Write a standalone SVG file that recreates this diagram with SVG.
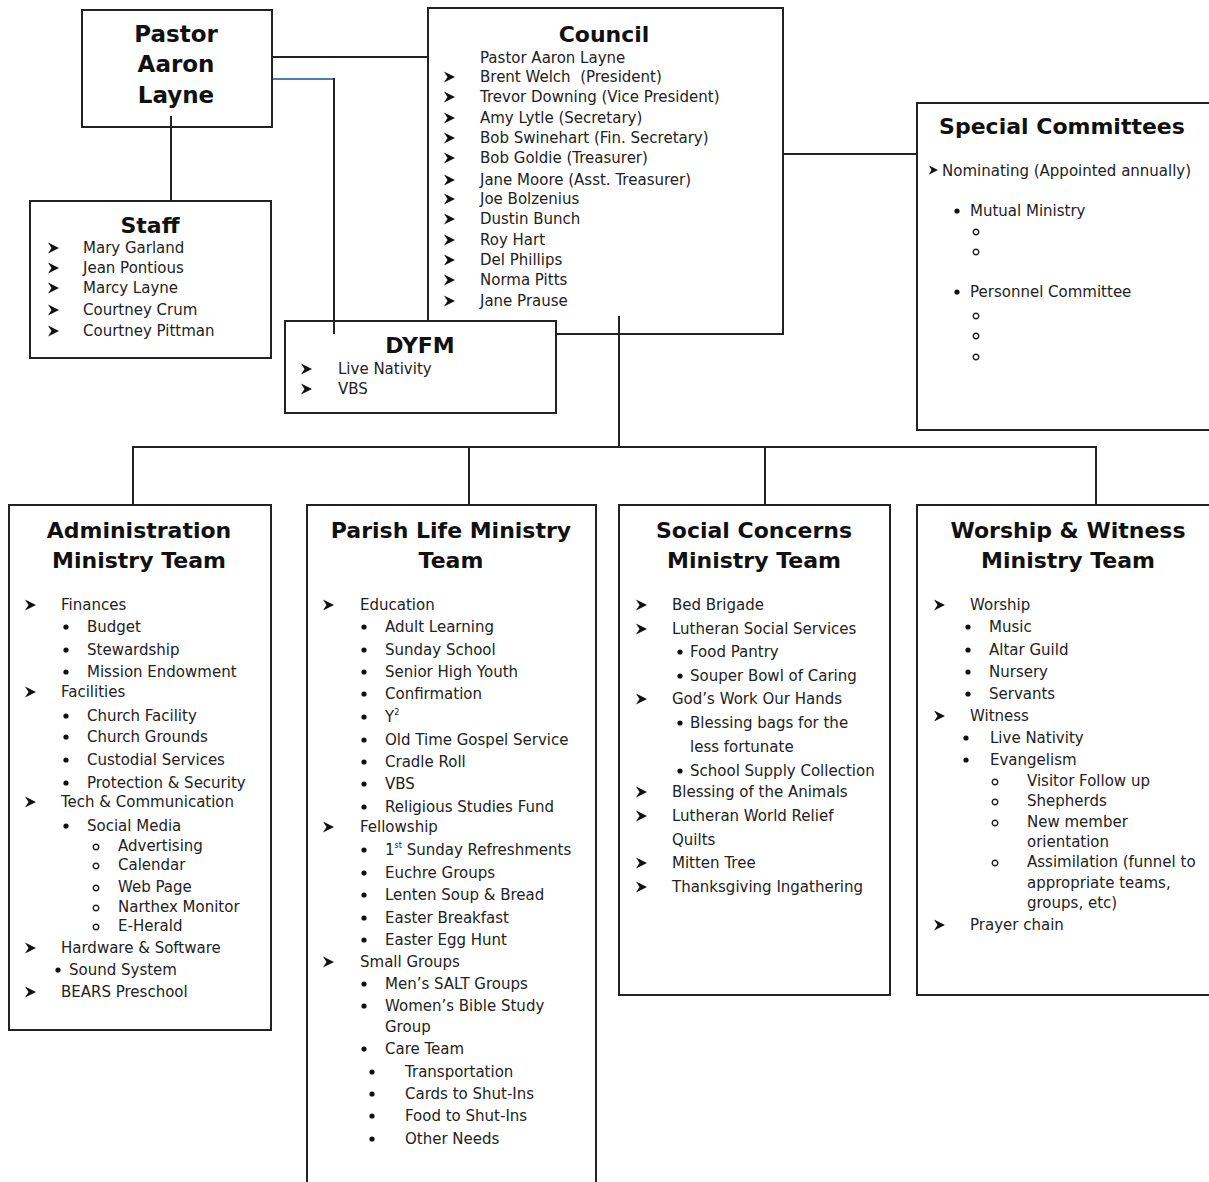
<svg xmlns="http://www.w3.org/2000/svg" xmlns:xlink="http://www.w3.org/1999/xlink" width="1209" height="1182" viewBox="0 0 1209 1182">
<style>
.box{fill:#fff;stroke:#222;stroke-width:2}
.ln{fill:none;stroke:#222;stroke-width:2}
.t{font-family:"DejaVu Sans",Verdana,sans-serif;font-size:15px;fill:#222}
.h{font-family:"DejaVu Sans",Verdana,sans-serif;font-weight:bold;font-size:22px;fill:#111;text-anchor:middle}
.arr{fill:#111}
.bul{fill:#111}
.cir{fill:none;stroke:#222;stroke-width:1.4}
.sup{font-size:8px}
</style>
<defs>
<path id="a" class="arr" d="M0,-5.5 L11,0 L0,5.5 L3.5,0 Z"/>
<path id="as" class="arr" d="M0,-4.5 L9,0 L0,4.5 L2.5,0 Z"/>
<circle id="b" class="bul" r="2.6"/>
<circle id="c" class="cir" r="2.8"/>
</defs>

<g id="connectors">
<line class="ln" x1="272" y1="57" x2="428" y2="57"/>
<line x1="272" y1="79" x2="334" y2="79" stroke="#4a7ebb" stroke-width="2"/>
<line class="ln" x1="334" y1="78" x2="334" y2="334"/>
<line class="ln" x1="171" y1="116" x2="171" y2="201"/>
<line class="ln" x1="783" y1="154" x2="917" y2="154"/>
<line class="ln" x1="619" y1="316" x2="619" y2="448"/>
<line class="ln" x1="132" y1="447" x2="1097" y2="447"/>
<line class="ln" x1="133" y1="446" x2="133" y2="505"/>
<line class="ln" x1="469" y1="446" x2="469" y2="505"/>
<line class="ln" x1="765" y1="446" x2="765" y2="505"/>
<line class="ln" x1="1096" y1="446" x2="1096" y2="505"/>
</g>

<g id="pastor">
<rect class="box" x="82" y="10" width="190" height="117"/>
<line class="ln" x1="171" y1="116" x2="171" y2="127"/>
<text class="h" x="176" y="42" style="font-size:23px">Pastor</text>
<text class="h" x="176" y="72" style="font-size:23px">Aaron</text>
<text class="h" x="176" y="103" style="font-size:23px">Layne</text>
</g>

<g id="staff">
<rect class="box" x="30" y="201" width="241" height="157"/>
<text class="h" x="150" y="233">Staff</text>
<use href="#a" x="48" y="248"/><text class="t" x="83" y="253">Mary Garland</text>
<use href="#a" x="48" y="268"/><text class="t" x="83" y="273">Jean Pontious</text>
<use href="#a" x="48" y="288"/><text class="t" x="83" y="293">Marcy Layne</text>
<use href="#a" x="48" y="310"/><text class="t" x="83" y="315">Courtney Crum</text>
<use href="#a" x="48" y="331"/><text class="t" x="83" y="336">Courtney Pittman</text>
</g>

<g id="council">
<rect class="box" x="428" y="8" width="355" height="326"/>
<line class="ln" x1="619" y1="316" x2="619" y2="334"/>
<text class="h" x="604" y="42">Council</text>
<text class="t" x="480" y="63">Pastor Aaron Layne</text>
<use href="#a" x="444" y="77"/><text class="t" x="480" y="82">Brent Welch&#160; (President)</text>
<use href="#a" x="444" y="97"/><text class="t" x="480" y="102">Trevor Downing (Vice President)</text>
<use href="#a" x="444" y="118"/><text class="t" x="480" y="123">Amy Lytle (Secretary)</text>
<use href="#a" x="444" y="138"/><text class="t" x="480" y="143">Bob Swinehart (Fin. Secretary)</text>
<use href="#a" x="444" y="158"/><text class="t" x="480" y="163">Bob Goldie (Treasurer)</text>
<use href="#a" x="444" y="180"/><text class="t" x="480" y="185">Jane Moore (Asst. Treasurer)</text>
<use href="#a" x="444" y="199"/><text class="t" x="480" y="204">Joe Bolzenius</text>
<use href="#a" x="444" y="219"/><text class="t" x="480" y="224">Dustin Bunch</text>
<use href="#a" x="444" y="240"/><text class="t" x="480" y="245">Roy Hart</text>
<use href="#a" x="444" y="260"/><text class="t" x="480" y="265">Del Phillips</text>
<use href="#a" x="444" y="280"/><text class="t" x="480" y="285">Norma Pitts</text>
<use href="#a" x="444" y="301"/><text class="t" x="480" y="306">Jane Prause</text>
</g>

<g id="dyfm">
<rect class="box" x="285" y="321" width="271" height="92"/>
<line class="ln" x1="334" y1="321" x2="334" y2="334"/>
<text class="h" x="420" y="353">DYFM</text>
<use href="#a" x="301" y="369"/><text class="t" x="338" y="374">Live Nativity</text>
<use href="#a" x="301" y="389"/><text class="t" x="338" y="394">VBS</text>
</g>

<g id="special">
<rect class="box" x="917" y="103" width="296" height="327"/>
<text class="h" x="1062" y="134">Special Committees</text>
<use href="#as" x="929" y="170"/><text class="t" x="942" y="176">Nominating (Appointed annually)</text>
<use href="#b" x="957" y="211"/><text class="t" x="970" y="216">Mutual Ministry</text>
<use href="#c" x="976" y="232"/>
<use href="#c" x="976" y="252"/>
<use href="#b" x="957" y="292"/><text class="t" x="970" y="297">Personnel Committee</text>
<use href="#c" x="976" y="316"/>
<use href="#c" x="976" y="336"/>
<use href="#c" x="976" y="357"/>
</g>

<g id="administration">
<rect class="box" x="9" y="505" width="262" height="525"/>
<text class="h" x="139" y="538">Administration</text>
<text class="h" x="139" y="568">Ministry Team</text>
<use href="#a" x="25" y="605"/><text class="t" x="61" y="610">Finances</text>
<use href="#b" x="66" y="627"/><text class="t" x="87" y="632">Budget</text>
<use href="#b" x="66" y="650"/><text class="t" x="87" y="655">Stewardship</text>
<use href="#b" x="66" y="672"/><text class="t" x="87" y="677">Mission Endowment</text>
<use href="#a" x="25" y="692"/><text class="t" x="61" y="697">Facilities</text>
<use href="#b" x="66" y="716"/><text class="t" x="87" y="721">Church Facility</text>
<use href="#b" x="66" y="737"/><text class="t" x="87" y="742">Church Grounds</text>
<use href="#b" x="66" y="760"/><text class="t" x="87" y="765">Custodial Services</text>
<use href="#b" x="66" y="783"/><text class="t" x="87" y="788">Protection &amp; Security</text>
<use href="#a" x="25" y="802"/><text class="t" x="61" y="807">Tech &amp; Communication</text>
<use href="#b" x="66" y="826"/><text class="t" x="87" y="831">Social Media</text>
<use href="#c" x="96" y="847"/><text class="t" x="118" y="851">Advertising</text>
<use href="#c" x="96" y="866"/><text class="t" x="118" y="870">Calendar</text>
<use href="#c" x="96" y="888"/><text class="t" x="118" y="892">Web Page</text>
<use href="#c" x="96" y="908"/><text class="t" x="118" y="912">Narthex Monitor</text>
<use href="#c" x="96" y="927"/><text class="t" x="118" y="931">E-Herald</text>
<use href="#a" x="25" y="948"/><text class="t" x="61" y="953">Hardware &amp; Software</text>
<use href="#b" x="58" y="970"/><text class="t" x="69" y="975">Sound System</text>
<use href="#a" x="25" y="992"/><text class="t" x="61" y="997">BEARS Preschool</text>
</g>

<g id="parish-life">
<rect class="box" x="307" y="505" width="289" height="690"/>
<text class="h" x="451" y="538">Parish Life Ministry</text>
<text class="h" x="451" y="568">Team</text>
<use href="#a" x="323" y="605"/><text class="t" x="360" y="610">Education</text>
<use href="#b" x="364" y="627"/><text class="t" x="385" y="632">Adult Learning</text>
<use href="#b" x="364" y="650"/><text class="t" x="385" y="655">Sunday School</text>
<use href="#b" x="364" y="672"/><text class="t" x="385" y="677">Senior High Youth</text>
<use href="#b" x="364" y="694"/><text class="t" x="385" y="699">Confirmation</text>
<use href="#b" x="364" y="717"/><text class="t" x="385" y="722">Y<tspan class="sup" dy="-7">2</tspan></text>
<use href="#b" x="364" y="740"/><text class="t" x="385" y="745">Old Time Gospel Service</text>
<use href="#b" x="364" y="762"/><text class="t" x="385" y="767">Cradle Roll</text>
<use href="#b" x="364" y="784"/><text class="t" x="385" y="789">VBS</text>
<use href="#b" x="364" y="807"/><text class="t" x="385" y="812">Religious Studies Fund</text>
<use href="#a" x="323" y="827"/><text class="t" x="360" y="832">Fellowship</text>
<use href="#b" x="364" y="850"/><text class="t" x="385" y="855">1<tspan class="sup" dy="-7">st</tspan><tspan dy="7"> Sunday Refreshments</tspan></text>
<use href="#b" x="364" y="873"/><text class="t" x="385" y="878">Euchre Groups</text>
<use href="#b" x="364" y="895"/><text class="t" x="385" y="900">Lenten Soup &amp; Bread</text>
<use href="#b" x="364" y="918"/><text class="t" x="385" y="923">Easter Breakfast</text>
<use href="#b" x="364" y="940"/><text class="t" x="385" y="945">Easter Egg Hunt</text>
<use href="#a" x="323" y="962"/><text class="t" x="360" y="967">Small Groups</text>
<use href="#b" x="364" y="984"/><text class="t" x="385" y="989">Men’s SALT Groups</text>
<use href="#b" x="364" y="1006"/><text class="t" x="385" y="1011">Women’s Bible Study</text>
<text class="t" x="385" y="1032">Group</text>
<use href="#b" x="364" y="1049"/><text class="t" x="385" y="1054">Care Team</text>
<use href="#b" x="372" y="1072"/><text class="t" x="405" y="1077">Transportation</text>
<use href="#b" x="372" y="1094"/><text class="t" x="405" y="1099">Cards to Shut-Ins</text>
<use href="#b" x="372" y="1116"/><text class="t" x="405" y="1121">Food to Shut-Ins</text>
<use href="#b" x="372" y="1139"/><text class="t" x="405" y="1144">Other Needs</text>
</g>

<g id="social-concerns">
<rect class="box" x="619" y="505" width="271" height="490"/>
<text class="h" x="754" y="538">Social Concerns</text>
<text class="h" x="754" y="568">Ministry Team</text>
<use href="#a" x="636" y="605"/><text class="t" x="672" y="610">Bed Brigade</text>
<use href="#a" x="636" y="629"/><text class="t" x="672" y="634">Lutheran Social Services</text>
<use href="#b" x="680" y="652"/><text class="t" x="690" y="657">Food Pantry</text>
<use href="#b" x="680" y="676"/><text class="t" x="690" y="681">Souper Bowl of Caring</text>
<use href="#a" x="636" y="699"/><text class="t" x="672" y="704">God’s Work Our Hands</text>
<use href="#b" x="680" y="723"/><text class="t" x="690" y="728">Blessing bags for the</text>
<text class="t" x="690" y="752">less fortunate</text>
<use href="#b" x="680" y="771"/><text class="t" x="690" y="776">School Supply Collection</text>
<use href="#a" x="636" y="792"/><text class="t" x="672" y="797">Blessing of the Animals</text>
<use href="#a" x="636" y="816"/><text class="t" x="672" y="821">Lutheran World Relief</text>
<text class="t" x="672" y="845">Quilts</text>
<use href="#a" x="636" y="863"/><text class="t" x="672" y="868">Mitten Tree</text>
<use href="#a" x="636" y="887"/><text class="t" x="672" y="892">Thanksgiving Ingathering</text>
</g>

<g id="worship-witness">
<rect class="box" x="917" y="505" width="296" height="490"/>
<text class="h" x="1068" y="538">Worship &amp; Witness</text>
<text class="h" x="1068" y="568">Ministry Team</text>
<use href="#a" x="934" y="605"/><text class="t" x="970" y="610">Worship</text>
<use href="#b" x="968" y="627"/><text class="t" x="989" y="632">Music</text>
<use href="#b" x="968" y="650"/><text class="t" x="989" y="655">Altar Guild</text>
<use href="#b" x="968" y="672"/><text class="t" x="989" y="677">Nursery</text>
<use href="#b" x="968" y="694"/><text class="t" x="989" y="699">Servants</text>
<use href="#a" x="934" y="716"/><text class="t" x="970" y="721">Witness</text>
<use href="#b" x="966" y="738"/><text class="t" x="990" y="743">Live Nativity</text>
<use href="#b" x="966" y="760"/><text class="t" x="990" y="765">Evangelism</text>
<use href="#c" x="995" y="782"/><text class="t" x="1027" y="786">Visitor Follow up</text>
<use href="#c" x="995" y="802"/><text class="t" x="1027" y="806">Shepherds</text>
<use href="#c" x="995" y="823"/><text class="t" x="1027" y="827">New member</text>
<text class="t" x="1027" y="847">orientation</text>
<use href="#c" x="995" y="863"/><text class="t" x="1027" y="867">Assimilation (funnel to</text>
<text class="t" x="1027" y="888">appropriate teams,</text>
<text class="t" x="1027" y="908">groups, etc)</text>
<use href="#a" x="934" y="925"/><text class="t" x="970" y="930">Prayer chain</text>
</g>
</svg>
